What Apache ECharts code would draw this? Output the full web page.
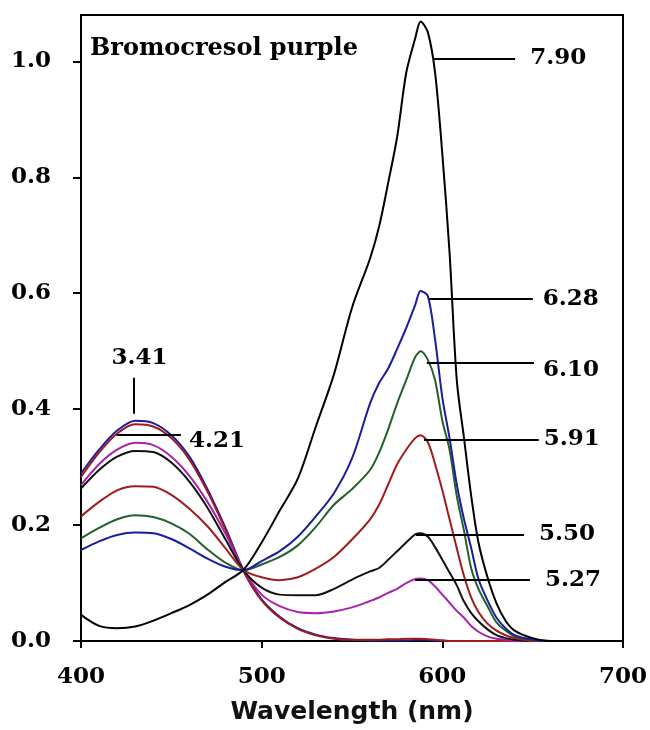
<!DOCTYPE html>
<html>
<head>
<meta charset="utf-8">
<script src="https://cdn.jsdelivr.net/npm/echarts@6/dist/echarts.min.js"></script>
<style>
  html, body { margin: 0; padding: 0; background: #fff; }
  #chart { width: 650px; height: 730px; }
</style>
</head>
<body>
<div id="chart"></div>
<script>
// ---- data ----
const wavelengths = [400,410,420,430,440,450,460,470,480,490,500,510,520,530,540,550,560,565,570,575,580,585,588,592,596,600,604,608,612,616,620,625,630,635,640,650,660,700];

const ph341 = [0.289,0.330,0.363,0.380,0.376,0.355,0.318,0.262,0.195,0.122,0.072,0.042,0.022,0.011,0.005,0.002,0.001,0.001,0.001,0.001,0.001,0.002,0.002,0.002,0.001,0.001,0,0,0,0,0,0,0,0,0,0,0,0];
const ph421 = [0.283,0.325,0.358,0.374,0.370,0.350,0.313,0.258,0.192,0.120,0.070,0.040,0.021,0.010,0.004,0.002,0.002,0.002,0.003,0.003,0.004,0.004,0.004,0.003,0.002,0.001,0,0,0,0,0,0,0,0,0,0,0,0];
const ph527 = [0.269,0.305,0.330,0.342,0.338,0.318,0.285,0.240,0.185,0.122,0.080,0.060,0.050,0.048,0.051,0.058,0.069,0.075,0.083,0.090,0.100,0.107,0.108,0.105,0.094,0.080,0.066,0.052,0.040,0.026,0.016,0.008,0.004,0.002,0,0,0,0];
const ph550 = [0.263,0.295,0.318,0.328,0.326,0.308,0.275,0.230,0.175,0.122,0.092,0.080,0.079,0.079,0.090,0.106,0.120,0.126,0.140,0.155,0.170,0.184,0.186,0.180,0.162,0.140,0.118,0.096,0.068,0.048,0.034,0.020,0.010,0.005,0.002,0,0,0];
const ph591 = [0.215,0.240,0.260,0.267,0.266,0.252,0.228,0.198,0.160,0.122,0.110,0.105,0.110,0.125,0.145,0.175,0.210,0.235,0.270,0.305,0.330,0.350,0.355,0.343,0.305,0.260,0.210,0.160,0.112,0.075,0.050,0.030,0.018,0.010,0.005,0,0,0];
const ph610 = [0.177,0.195,0.210,0.217,0.214,0.203,0.185,0.158,0.135,0.122,0.132,0.145,0.165,0.197,0.235,0.262,0.295,0.325,0.365,0.410,0.450,0.490,0.500,0.485,0.450,0.380,0.330,0.250,0.190,0.125,0.090,0.060,0.032,0.018,0.008,0.002,0,0];
const ph628 = [0.157,0.172,0.183,0.187,0.186,0.176,0.160,0.142,0.128,0.122,0.138,0.155,0.180,0.215,0.255,0.315,0.410,0.445,0.470,0.504,0.540,0.580,0.604,0.595,0.520,0.420,0.350,0.270,0.210,0.160,0.107,0.070,0.040,0.022,0.010,0.002,0,0];
const ph790 = [0.045,0.026,0.022,0.025,0.035,0.048,0.062,0.080,0.102,0.123,0.170,0.225,0.280,0.370,0.460,0.575,0.660,0.715,0.790,0.870,0.980,1.040,1.069,1.050,0.980,0.840,0.670,0.450,0.350,0.250,0.170,0.110,0.065,0.035,0.018,0.005,0,0];

const seriesNames = ['3.41','4.21','5.27','5.50','5.91','6.10','6.28','7.90'];
const seriesValues = [ph341, ph421, ph527, ph550, ph591, ph610, ph628, ph790];
const seriesColors = ['#1c1c9e','#a01c1c','#a424ac','#111111','#a01c1c','#22622a','#1c1c9e','#000000'];

const xTicks = [400, 500, 600, 700];
const yTicks = [0, 0.2, 0.4, 0.6, 0.8, 1.0];

// annotation leader lines (data coordinates)
const annLabel = ['7.90','6.28','6.10','5.91','5.50','5.27','4.21','3.41'];
const annX1 = [595.3, 592.5, 591.4, 589.8, 585.4, 584.9, 419.6, 429.1];
const annX2 = [640.3, 650.1, 650.7, 653.4, 645.2, 648.5, 455.3, 429.1];
const annY1 = [1.005, 0.590, 0.480, 0.348, 0.184, 0.105, 0.355, 0.392];
const annY2 = [1.005, 0.590, 0.480, 0.348, 0.184, 0.105, 0.355, 0.454];
const annGap = [15, 10, 9, 5, 15, 15, 8, 8];
const annDrop = [0, 0, 14, 0, 0, 0, 12, 0];

// ---- chart ----
const chart = echarts.init(document.getElementById('chart'), null, { renderer: 'canvas' });

const labelFont = { fontFamily: 'DejaVu Serif', fontWeight: 'bold', fontSize: 23, color: '#000' };

function markFor(name) {
  const i = annLabel.indexOf(name);
  if (i < 0) return undefined;
  const vertical = annX1[i] === annX2[i];
  const lbl = {
    show: true,
    position: 'end',
    distance: annGap[i],
    formatter: '{t|' + annLabel[i] + '}',
    rich: {
      t: Object.assign({
        padding: vertical ? [0, 0, 0, 12] : [annDrop[i], 0, 0, 0]
      }, labelFont)
    }
  };
  return {
    silent: true,
    symbol: 'none',
    animation: false,
    lineStyle: { color: '#000', width: 2, type: 'solid' },
    label: lbl,
    emphasis: { disabled: true },
    data: [[{ coord: [annX1[i], annY1[i]] }, { coord: [annX2[i], annY2[i]] }]]
  };
}

const series = seriesNames.map((name, k) => ({
  name: name,
  type: 'line',
  data: wavelengths.map((w, j) => [w, seriesValues[k][j]]),
  showSymbol: false,
  symbol: 'none',
  smooth: 0.3,
  lineStyle: { color: seriesColors[k], width: 2 },
  itemStyle: { color: seriesColors[k] },
  z: 2,
  markLine: markFor(name)
}));

chart.setOption({
  animation: false,
  backgroundColor: '#fff',
  title: {
    text: 'Bromocresol purple',
    left: 90,
    top: 37,
    padding: 0,
    textStyle: { fontFamily: 'DejaVu Serif', fontWeight: 'bold', fontSize: 24, color: '#000' }
  },
  grid: {
    left: 81, right: 22, top: 15, bottom: 87,
    show: true, borderColor: '#000', borderWidth: 2, backgroundColor: 'transparent',
    containLabel: false
  },
  xAxis: {
    type: 'value',
    min: 400, max: 700, interval: 100,
    name: 'Wavelength (nm)',
    nameLocation: 'middle',
    nameGap: 59,
    nameTextStyle: { fontFamily: 'DejaVu Sans', fontWeight: 'bold', fontSize: 25, color: '#111' },
    axisLine: { show: true, onZero: false, lineStyle: { color: '#000', width: 2 } },
    axisTick: { show: true, inside: false, length: 7, lineStyle: { color: '#000', width: 2 }, customValues: xTicks },
    axisLabel: Object.assign({ margin: 25, customValues: xTicks, formatter: v => String(v) }, labelFont),
    splitLine: { show: false }
  },
  yAxis: {
    type: 'value',
    min: 0, max: 1.08, interval: 0.2,
    axisLine: { show: true, onZero: false, lineStyle: { color: '#000', width: 2 } },
    axisTick: { show: true, inside: false, length: 8, lineStyle: { color: '#000', width: 2 }, customValues: yTicks },
    axisLabel: Object.assign({ margin: 30, customValues: yTicks, formatter: v => Number(v).toFixed(1) }, labelFont),
    splitLine: { show: false }
  },
  series: series
});
</script>
</body>
</html>
